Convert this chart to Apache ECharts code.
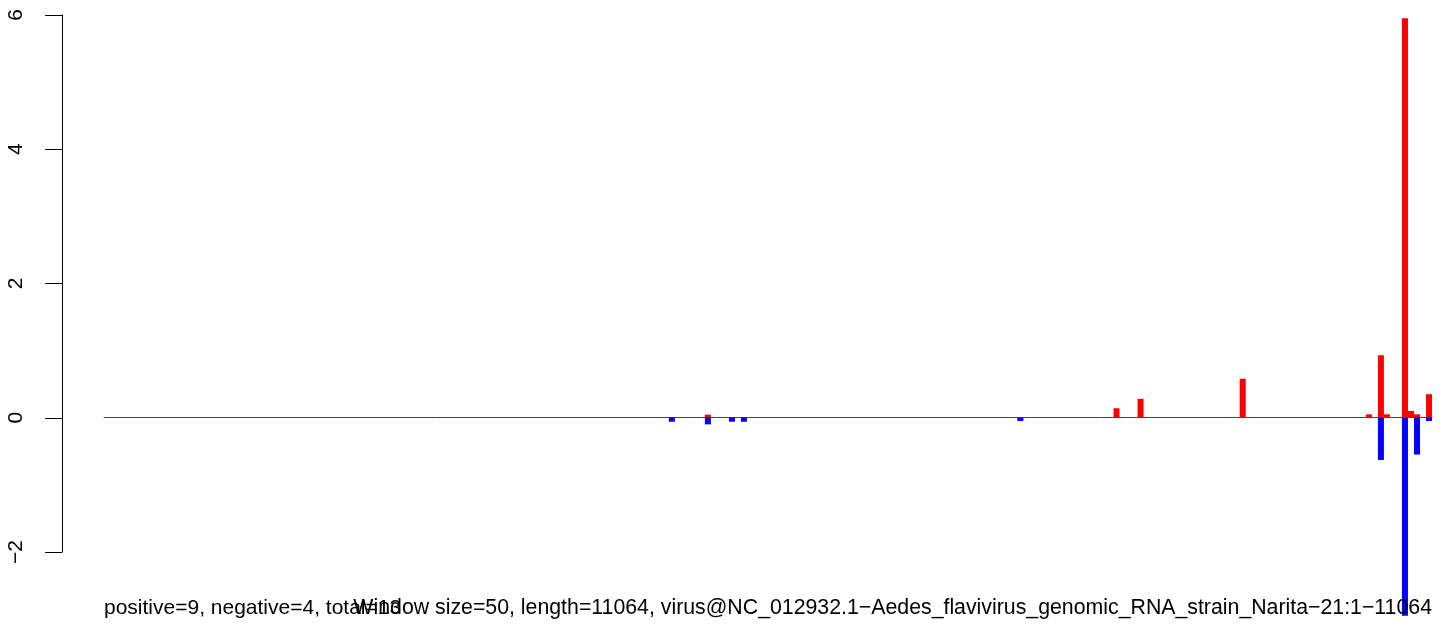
<!DOCTYPE html>
<html>
<head>
<meta charset="utf-8">
<script src="https://cdn.jsdelivr.net/npm/echarts@6/dist/echarts.min.js"></script>
<style>
html,body{margin:0;padding:0;background:#fff;}
#chart{width:1452px;height:628px;}
</style>
</head>
<body>
<div id="chart"></div>
<script>
// Data: window size 50 over a genome of length 11064 -> 221 windows
const windowSize = 50;
const windowCount = 221;
// Non-zero windows (index of window) and their values
const positiveIndex = [100, 168, 172, 189, 210, 212, 213, 216, 217, 218, 220];
const positiveValue = [0.045, 0.14, 0.28, 0.58, 0.05, 0.93, 0.05, 5.95, 0.10, 0.05, 0.35];
const negativeIndex = [94, 100, 104, 106, 152, 212, 216, 218, 220];
const negativeValue = [-0.06, -0.10, -0.06, -0.06, -0.05, -0.63, -2.95, -0.55, -0.05];
const yTicks = [-2, 0, 2, 4, 6];
const leftNote = 'positive=9, negative=4, total=13';
const rightNote = 'Window size=50, length=11064, virus@NC_012932.1\u2212Aedes_flavivirus_genomic_RNA_strain_Narita\u221221:1\u221211064';

const categories = [];
const posData = [];
const negData = [];
for (let i = 0; i < windowCount; i++) {
  categories.push(String(i * windowSize + 1));
  posData.push(0);
  negData.push(0);
}
positiveIndex.forEach((idx, k) => { posData[idx] = positiveValue[k]; });
negativeIndex.forEach((idx, k) => { negData[idx] = negativeValue[k]; });

const FONT = '"Liberation Sans", Arial, Helvetica, sans-serif';
const chart = echarts.init(document.getElementById('chart'), null, {renderer: 'canvas'});
chart.setOption({
  animation: false,
  backgroundColor: '#ffffff',
  title: [
    {text: leftNote, left: 104, top: 598, textStyle: {fontFamily: FONT, fontSize: 21, fontWeight: 'normal', color: '#000'}, padding: 0},
    {text: rightNote, right: 20, top: 598, textStyle: {fontFamily: FONT, fontSize: 21.3, fontWeight: 'normal', color: '#000'}, padding: 0}
  ],
  grid: [
    {left: 104, right: 20, top: 15, bottom: 9},
    {left: 62, width: 1, top: 15, height: 537}
  ],
  xAxis: [
    {
      gridIndex: 0, type: 'category', data: categories, boundaryGap: true,
      axisLine: {show: true, onZero: true, lineStyle: {color: '#444', width: 1}},
      axisTick: {show: false}, axisLabel: {show: false}, splitLine: {show: false}
    },
    {gridIndex: 1, type: 'value', show: false, min: 0, max: 1}
  ],
  yAxis: [
    {gridIndex: 0, type: 'value', min: -3, max: 6, show: false, splitLine: {show: false}},
    {
      gridIndex: 1, type: 'value', min: yTicks[0], max: yTicks[yTicks.length - 1], interval: 2,
      axisLine: {show: true, lineStyle: {color: '#000', width: 1}},
      axisTick: {show: true, length: 17, lineStyle: {color: '#000', width: 1}},
      splitLine: {show: false},
      axisLabel: {
        show: true, rotate: 90, margin: 35, fontSize: 21, color: '#000', fontFamily: FONT,
        formatter: v => (v < 0 ? '\u2212' + Math.abs(v) : String(v))
      }
    }
  ],
  series: [
    {
      name: 'positive', type: 'bar', xAxisIndex: 0, yAxisIndex: 0, data: posData,
      barGap: '-100%', barCategoryGap: 0, itemStyle: {color: '#ff0000'}, silent: true
    },
    {
      name: 'negative', type: 'bar', xAxisIndex: 0, yAxisIndex: 0, data: negData,
      barGap: '-100%', barCategoryGap: 0, itemStyle: {color: '#0000ff'}, silent: true
    },
    {
      name: 'axis', type: 'line', xAxisIndex: 1, yAxisIndex: 1, data: [], silent: true
    }
  ]
});
</script>
</body>
</html>
